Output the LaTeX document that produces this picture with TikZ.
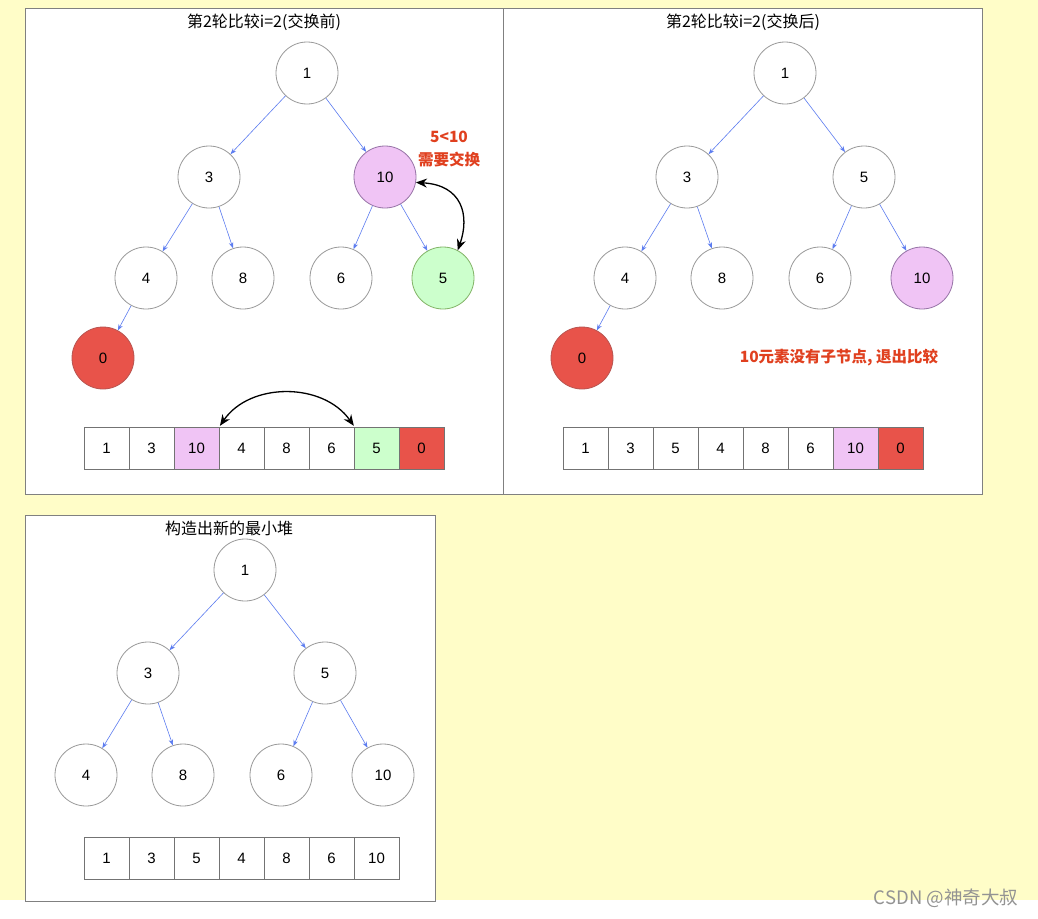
\documentclass[tikz,border=0pt]{standalone}
\usepackage{fontspec}
\setmainfont{Noto Sans CJK SC}
\newfontfamily\latinf{Liberation Sans}
\usetikzlibrary{arrows.meta}
\definecolor{bgY}{HTML}{FFFDC8}
\definecolor{pinkF}{HTML}{F0C4F5}
\definecolor{pinkD}{HTML}{9673A6}
\definecolor{greenF}{HTML}{CCFFCC}
\definecolor{greenD}{HTML}{82B366}
\definecolor{redF}{HTML}{E8534A}
\definecolor{redD}{HTML}{B85450}
\definecolor{edgeB}{HTML}{5C7CF0}
\definecolor{noteR}{HTML}{E0401F}
\definecolor{frameG}{HTML}{808080}
\definecolor{circG}{HTML}{999999}
\tikzset{
  hnode/.style={circle, draw=circG, line width=0.8pt, minimum size=62pt, inner sep=0pt, fill=white, font=\latinf\fontsize{15}{17}\selectfont},
  pinknode/.style={hnode, fill=pinkF, draw=pinkD},
  greennode/.style={hnode, fill=greenF, draw=greenD},
  rednode/.style={hnode, fill=redF, draw=redD},
  tedge/.style={draw=edgeB, line width=0.6pt, -{Stealth[length=6pt,width=4.5pt]}},
  cell/.style={rectangle, draw=frameG!90!black, line width=0.8pt, minimum width=45pt, minimum height=42pt, inner sep=0pt, fill=white, font=\latinf\fontsize{15}{17}\selectfont},
  pinkcell/.style={cell, fill=pinkF},
  greencell/.style={cell, fill=greenF},
  redcell/.style={cell, fill=redF},
  panel/.style={draw=frameG, line width=0.9pt, fill=white},
  ptitle/.style={font=\fontsize{16}{18}\selectfont, inner sep=0pt},
  note/.style={text=noteR, font=\bfseries\fontsize{15.5}{23}\selectfont, align=center, inner sep=0pt},
  swap/.style={{Stealth[length=11pt,width=9pt]}-{Stealth[length=11pt,width=9pt]}, line width=1.3pt, black},
}
\begin{document}
\begin{tikzpicture}[x=1pt,y=-1pt]
\useasboundingbox (0,0) rectangle (1038,918);
\fill[bgY] (0,0) rectangle (1038,900);
\fill[white] (0,900) rectangle (1038,918);
% panels
\draw[panel] (25,8) rectangle (503,494);
\draw[panel] (503,8) rectangle (982,494);
\draw[panel] (25,515) rectangle (435,901);
\node[ptitle] (t1) at (264,22) {第2轮比较i=2(交换前)};
\node[ptitle] (t2) at (743,22) {第2轮比较i=2(交换后)};
\node[ptitle] (t3) at (229,528) {构造出新的最小堆};

% panel 1 tree
\node[hnode] (a1) at (307,73) {1};
\node[hnode] (a3) at (209,177) {3};
\node[pinknode] (a10) at (385,177) {10};
\node[hnode] (a4) at (146,278) {4};
\node[hnode] (a8) at (243,278) {8};
\node[hnode] (a6) at (341,278) {6};
\node[greennode] (a5) at (443,278) {5};
\node[rednode] (a0) at (103,358) {0};
\draw[tedge] (a1) -- (a3);
\draw[tedge] (a1) -- (a10);
\draw[tedge] (a3) -- (a4);
\draw[tedge] (a3) -- (a8);
\draw[tedge] (a10) -- (a6);
\draw[tedge] (a10) -- (a5);
\draw[tedge] (a4) -- (a0);
\node[note] (n1) at (449,149) {5<10\\需要交换};
\draw[swap] (a10.-10) .. controls (462,185) and (470,215) .. (a5.62);

% panel 1 array
\node[cell] (p1c1) at (106.5,448) {1};
\node[cell] (p1c2) at (151.5,448) {3};
\node[pinkcell] (p1c3) at (196.5,448) {10};
\node[cell] (p1c4) at (241.5,448) {4};
\node[cell] (p1c5) at (286.5,448) {8};
\node[cell] (p1c6) at (331.5,448) {6};
\node[greencell] (p1c7) at (376.5,448) {5};
\node[redcell] (p1c8) at (421.5,448) {0};
\draw[swap, shorten <=1pt, shorten >=1pt] (p1c3.north east) .. controls (250,382) and (323,382) .. (p1c6.north east);

% panel 2 tree
\node[hnode] (b1) at (785,73) {1};
\node[hnode] (b3) at (687,177) {3};
\node[hnode] (b5) at (864,177) {5};
\node[hnode] (b4) at (625,278) {4};
\node[hnode] (b8) at (722,278) {8};
\node[hnode] (b6) at (820,278) {6};
\node[pinknode] (b10) at (922,278) {10};
\node[rednode] (b0) at (582,358) {0};
\draw[tedge] (b1) -- (b3);
\draw[tedge] (b1) -- (b5);
\draw[tedge] (b3) -- (b4);
\draw[tedge] (b3) -- (b8);
\draw[tedge] (b5) -- (b6);
\draw[tedge] (b5) -- (b10);
\draw[tedge] (b4) -- (b0);
\node[note] (n2) at (839,358) {10元素没有子节点, 退出比较};

% panel 2 array
\node[cell] (p2c1) at (585.5,448) {1};
\node[cell] (p2c2) at (630.5,448) {3};
\node[cell] (p2c3) at (675.5,448) {5};
\node[cell] (p2c4) at (720.5,448) {4};
\node[cell] (p2c5) at (765.5,448) {8};
\node[cell] (p2c6) at (810.5,448) {6};
\node[pinkcell] (p2c7) at (855.5,448) {10};
\node[redcell] (p2c8) at (900.5,448) {0};

% panel 3 tree
\node[hnode] (c1) at (245,570) {1};
\node[hnode] (c3) at (148,673) {3};
\node[hnode] (c5) at (325,673) {5};
\node[hnode] (c4) at (86,775) {4};
\node[hnode] (c8) at (183,775) {8};
\node[hnode] (c6) at (281,775) {6};
\node[hnode] (c10) at (383,775) {10};
\draw[tedge] (c1) -- (c3);
\draw[tedge] (c1) -- (c5);
\draw[tedge] (c3) -- (c4);
\draw[tedge] (c3) -- (c8);
\draw[tedge] (c5) -- (c6);
\draw[tedge] (c5) -- (c10);

% panel 3 array
\node[cell] (p3c1) at (106.5,858) {1};
\node[cell] (p3c2) at (151.5,858) {3};
\node[cell] (p3c3) at (196.5,858) {5};
\node[cell] (p3c4) at (241.5,858) {4};
\node[cell] (p3c5) at (286.5,858) {8};
\node[cell] (p3c6) at (331.5,858) {6};
\node[cell] (p3c7) at (376.5,858) {10};

% watermark
\node[text=gray!85, font=\fontsize{18.5}{20}\selectfont, inner sep=0pt] (wm) at (946,898) {CSDN @神奇大叔};
\end{tikzpicture}
\end{document}
